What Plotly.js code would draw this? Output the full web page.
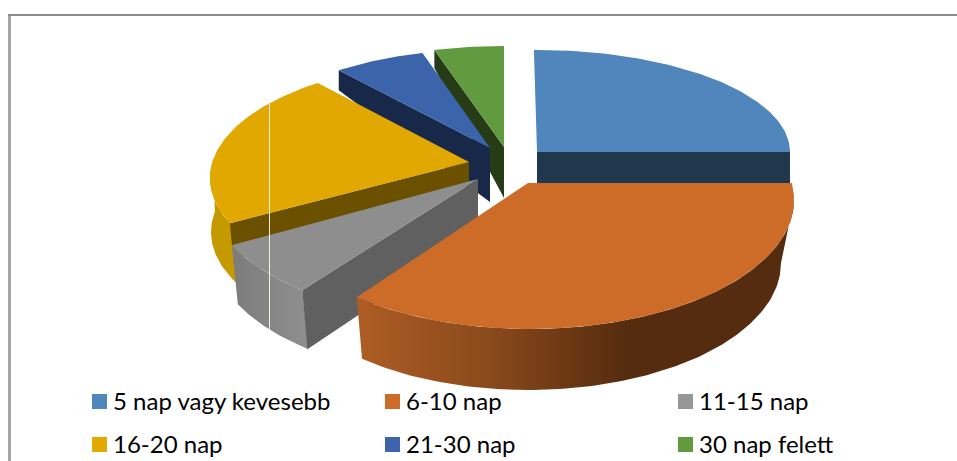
<!DOCTYPE html>
<html><head><meta charset="utf-8">
<script src="https://cdn.plot.ly/plotly-3.0.1.min.js"></script>
<style>html,body{margin:0;padding:0;background:#fff}#c{width:957px;height:461px}</style>
</head><body><div id="c"></div>
<script>
// Data (share of respondents, %)
const categories = ['5 nap vagy kevesebb','6-10 nap','11-15 nap','16-20 nap','21-30 nap','30 nap felett'];
const values = [25, 37, 6.5, 21.3, 5.9, 4.3];
const topColors = ['#5086BB','#CD6C28','#8E8E8E','#E0A800','#3C64AB','#619A3F'];
const legendColors = ['#4F86BB','#CD6C28','#969696','#E2AA00','#3E65AB','#629B3E'];
const cutColors = ['#20374E','#552C0F','#606060','#6B5000','#172848','#263C17'];

// Projection of each exploded wedge (perspective makes every one slightly different)
const views = [
 {c:[537,152],r:[253,102],apex:[537,152],da:[-0.7,0],cut:{edge:1,far:31,near:31,farDx:0}},
 {c:[530,200],r:[264,129],apex:[528,183],da:[-7.6,-2.2],rim:{c:[528,263],r:[253,127],from:90,
   grad:[[0,'#AE5D24'],[0.3,'#8A4A1C'],[0.58,'#5C2F10'],[0.62,'#552C0F'],[1,'#552C0F']]}},
 {c:[470,190],r:[263,130],apex:[478,179],da:[-3.6,-1.7],cut:{edge:0,far:59,near:56,farDx:5},rim:{c:[476,249],r:[263,130],
   grad:[[0,'#7C7C7C'],[1,'#8F8F8F']]}},
 {c:[463,178],r:[253,116],apex:[469,162],da:[0.5,1.7],cut:{edge:0,far:22,near:24,farDx:2},rim:{c:[460,232],r:[249,116],from:240,to:280,
   grad:[[0,'#C49A00'],[1,'#C49A00']]}},
 {c:[490,156],r:[253,107],apex:[490,148],da:[0,0],cut:{edge:0,far:20,near:54,farDx:0}},
 {c:[504,147],r:[253,101],apex:[504,147],da:[-0.5,0],cut:{edge:0,far:18,near:51,farDx:0}}
];
const drawOrder = [5,4,0,3,2,1];

// Cumulative angles, clockwise from 12 o'clock
const total = values.reduce((a,b)=>a+b,0);
let run = 0;
const spans = values.map(v=>{const s=[run,run+v/total*360];run=s[1];return s;});
const pt = (c,r,deg)=>{const t=deg*Math.PI/180;return [c[0]+r[0]*Math.sin(t),c[1]-r[1]*Math.cos(t)];};
function arc(c,r,a0,a1){const n=Math.max(2,Math.ceil(Math.abs(a1-a0)));const o=[];
  for(let i=0;i<=n;i++)o.push(pt(c,r,a0+(a1-a0)*i/n));return o;}
function poly(points,extra){const xs=points.map(p=>p[0]),ys=points.map(p=>p[1]);
  xs.push(xs[0]);ys.push(ys[0]);
  return Object.assign({type:'scatter',mode:'lines',x:xs,y:ys,fill:'toself',line:{width:0},
    hoverinfo:'skip',showlegend:false},extra);}

const traces=[];
drawOrder.forEach(i=>{
  const v=views[i];const a0=spans[i][0]+v.da[0],a1=spans[i][1]+v.da[1];
  const name=categories[i];
  if(v.rim){
    const from=v.rim.from!==undefined?v.rim.from:a0,to=v.rim.to!==undefined?v.rim.to:a1;
    const pts=arc(v.c,v.r,from,to).concat(arc(v.rim.c,v.rim.r,from,to).reverse());
    traces.push(poly(pts,{name:name+' rim',fillcolor:v.rim.grad[0][1],
      fillgradient:{type:'horizontal',colorscale:v.rim.grad}}));
  }
  if(v.cut){
    const e=pt(v.c,v.r,v.cut.edge?a1:a0);
    const pts=[e,v.apex,[v.apex[0],v.apex[1]+v.cut.near],[e[0]+v.cut.farDx,e[1]+v.cut.far]];
    traces.push(poly(pts,{name:name+' cut',fillcolor:cutColors[i]}));
  }
  traces.push(poly([v.apex].concat(arc(v.c,v.r,a0,a1)),{name:name,fillcolor:topColors[i]}));
});

// Legend grid
const legendCols=[92,385,678], legendRows=[401.5,444.5], swatch=15, textGap=7;
const shapes=[], annotations=[];
categories.forEach((cat,i)=>{
  const x=legendCols[i%3], y=legendRows[Math.floor(i/3)];
  shapes.push({type:'rect',xref:'x',yref:'y',x0:x,x1:x+swatch,y0:y-swatch/2,y1:y+swatch/2,
    fillcolor:legendColors[i],line:{width:0}});
  annotations.push({xref:'x',yref:'y',x:x+swatch+textGap,y:y,text:cat,showarrow:false,
    xanchor:'left',yanchor:'middle',xshift:-3,yshift:1,font:{family:'Lato, Carlito, sans-serif',size:24,color:'#000'}});
});
// Chart frame (top and left only are in view) and the white scan line
shapes.push({type:'line',xref:'x',yref:'y',x0:9.5,x1:9.5,y0:15,y1:461,line:{color:'#A6A6A6',width:3}});
shapes.push({type:'line',xref:'x',yref:'y',x0:8,x1:957,y0:15,y1:15,line:{color:'#8C8C8C',width:2}});
shapes.push({type:'line',xref:'x',yref:'y',x0:269.5,x1:269.5,y0:104,y1:330,line:{color:'#F4F0E4',width:1},layer:'above'});

Plotly.newPlot('c',traces,{
  width:957,height:461,margin:{l:0,r:0,t:0,b:0},paper_bgcolor:'#fff',plot_bgcolor:'#fff',showlegend:false,
  xaxis:{range:[0,957],visible:false,fixedrange:true},
  yaxis:{range:[461,0],visible:false,fixedrange:true},
  shapes:shapes,annotations:annotations
},{displayModeBar:false,staticPlot:true});
</script></body></html>
